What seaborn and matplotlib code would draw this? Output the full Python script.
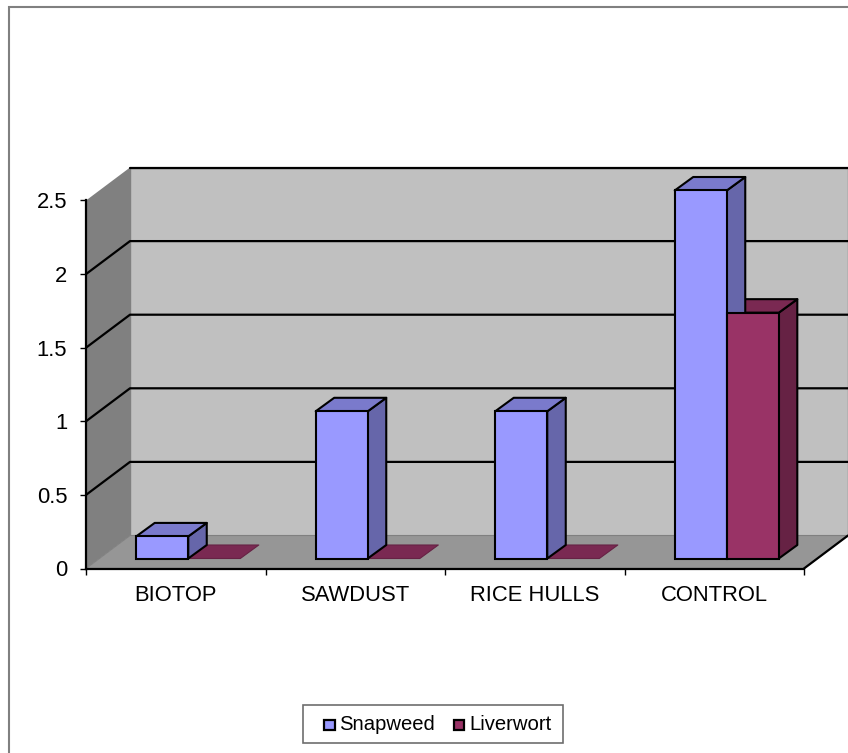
import numpy as np
import pandas as pd
import matplotlib
matplotlib.use("Agg")
import matplotlib.pyplot as plt
import seaborn as sns
from matplotlib.patches import Polygon, Rectangle
from matplotlib.transforms import Affine2D

categories = ["BIOTOP", "SAWDUST", "RICE HULLS", "CONTROL"]
series_names = ["Snapweed", "Liverwort"]
snapweed = [0.15, 1.0, 1.0, 2.5]
liverwort = [0.0, 0.0, 0.0, 1.67]
y_ticks = [0, 0.5, 1, 1.5, 2, 2.5]
y_labels = ["0", "0.5", "1", "1.5", "2", "2.5"]

W, H = 848, 753
sns.set_theme(style="white")
plt.rcParams["font.family"] = ["Liberation Sans", "DejaVu Sans"]

df = pd.DataFrame({
    "category": categories * 2,
    "series": ["Snapweed"] * 4 + ["Liverwort"] * 4,
    "value": snapweed + liverwort,
})

fig = plt.figure(figsize=(W / 100, H / 100), dpi=100, facecolor="white")
L, R, T, B = 86, 804, 200.5, 568.5
ax = fig.add_axes([L / W, 1 - B / H, (R - L) / W, (B - T) / H])
palette = {"Snapweed": "#9999FF", "Liverwort": "#993366"}
sns.barplot(data=df, x="category", y="value", hue="series", order=categories,
            hue_order=series_names, palette=palette, width=0.58,
            gap=0, saturation=1, legend=False, ax=ax, zorder=5)
ax.set_xlim(-0.5, 3.5)
ax.set_ylim(0, 2.5)
ax.set_xlabel("")
ax.set_ylabel("")
ax.set_facecolor("none")
for s in ["top", "right"]:
    ax.spines[s].set_visible(False)
for s in ["left", "bottom"]:
    ax.spines[s].set_linewidth(1.6)
    ax.spines[s].set_color("black")
    ax.spines[s].set_zorder(6)
ax.set_yticks(y_ticks, y_labels)
ax.set_xticks(np.arange(-0.5, 4, 1), minor=False)
ax.set_xticklabels([""] * 5)
ax.tick_params(axis="both", length=4, width=1, color="black", direction="out",
               left=True, bottom=True, labelcolor="black")
ax.tick_params(axis="y", labelsize=15.8, pad=9.5)
for i, c in enumerate(categories):
    ax.text(i, -0.183, c, ha="center", va="center", fontsize=15.8, color="black")

# Oblique projection offsets, in pixels
DX, DY = 44, 33            # full floor depth
GX, GY = 12.5, 10          # front gap before bars
BX, BY = 18.5, 13.5        # bar depth
EDGE = 1.5

data = ax.transData
def P(x, y, dx=0, dy=0):
    a, b = data.transform((x, y))
    return (a + dx, b + dy)


def poly(points, fc, ec="none", lw=0, z=1):
    p = Polygon(points, closed=True, fc=fc, ec=ec, lw=lw, transform=None, zorder=z,
                clip_on=False, joinstyle="round")
    ax.add_artist(p)
    return p


x0, x1 = -0.5, 3.5
x_clip = W - P(x1, 0)[0]
# walls
poly([P(x0, 0, DX, DY), P(x1, 0, x_clip, DY), P(x1, 2.5, x_clip, DY), P(x0, 2.5, DX, DY)],
     "#C0C0C0", ec="#808080", lw=1, z=1)
poly([P(x0, 0), P(x0, 2.5), P(x0, 2.5, DX, DY), P(x0, 0, DX, DY)], "#808080", z=1.2)
poly([P(x0, 0), P(x1, 0), P(x1, 0, DX, DY), P(x0, 0, DX, DY)], "#969696", ec="#808080", lw=0.8, z=1.2)

# gridlines on left wall and back wall
for v in y_ticks[1:]:
    pts = [P(x0, v), P(x0, v, DX, DY), P(x1, v, x_clip, DY)]
    if v == 2.5:
        pts = pts[1:]
    ax.add_artist(plt.Line2D([p[0] for p in pts], [p[1] for p in pts], color="black",
                             lw=1.6, transform=None, zorder=2, clip_on=False))
# floor right edge
a, b = P(x1, 0), P(x1, 0, x_clip, DY)
ax.add_artist(plt.Line2D([a[0], b[0]], [a[1], b[1]], color="black", lw=1.6,
                         transform=None, zorder=2, clip_on=False))

# 3D faces of bars built from the seaborn bar rectangles
fig.canvas.draw()
side = {"Snapweed": "#6666AA", "Liverwort": "#662244"}
top = {"Snapweed": "#7A7ACC", "Liverwort": "#7A2952"}
for s_i, (name, container) in enumerate(zip(series_names, ax.containers)):
    for k, r in enumerate(container.patches):
        xa, xb = r.get_x(), r.get_x() + r.get_width()
        h = r.get_height()
        z = (6 if name == "Snapweed" else 5.5) + k * 0.01
        ec = "black"
        flat = h <= 0
        # side
        if not flat:
            poly([P(xb, 0, GX, GY), P(xb, h, GX, GY), P(xb, h, GX + BX, GY + BY), P(xb, 0, GX + BX, GY + BY)],
                 side[name], ec=ec, lw=EDGE, z=z)
        # top
        poly([P(xa, h, GX, GY), P(xb, h, GX, GY), P(xb, h, GX + BX, GY + BY), P(xa, h, GX + BX, GY + BY)],
             top[name], ec=side[name] if flat else ec, lw=0.8 if flat else EDGE, z=z)
        # front face: the seaborn rectangle, moved into depth
        r.set_transform(ax.transData + Affine2D().translate(GX, GY))
        r.set_edgecolor(ec)
        r.set_linewidth(0 if flat else EDGE)
        r.set_zorder(z + 0.5 if name == "Snapweed" else 7)
        r.set_clip_on(False)

# legend
lx, ly, lw_, lh = 303, 705, 260, 38
fig.add_artist(Rectangle((lx / W, 1 - (ly + lh) / H), lw_ / W, lh / H, fc="white", ec="#6E6E6E",
                         lw=1.2, transform=fig.transFigure))
for name, sx, tx in [("Snapweed", 324, 339), ("Liverwort", 454, 469)]:
    fig.add_artist(Rectangle((sx / W, 1 - 730 / H), 10.5 / W, 10.5 / H, fc=palette[name], ec="black",
                             lw=1.6, transform=fig.transFigure))
    fig.text(tx / W, 1 - 724.5 / H, name, ha="left", va="center", fontsize=14.6, color="black")

# outer frame: only top and left edges are visible
fig.add_artist(plt.Line2D([9 / W, 9 / W, 1], [0, 1 - 7 / H, 1 - 7 / H], color="#808080", lw=1.5,
                          transform=fig.transFigure, solid_joinstyle="miter"))

fig.savefig("out.png", dpi=100)
